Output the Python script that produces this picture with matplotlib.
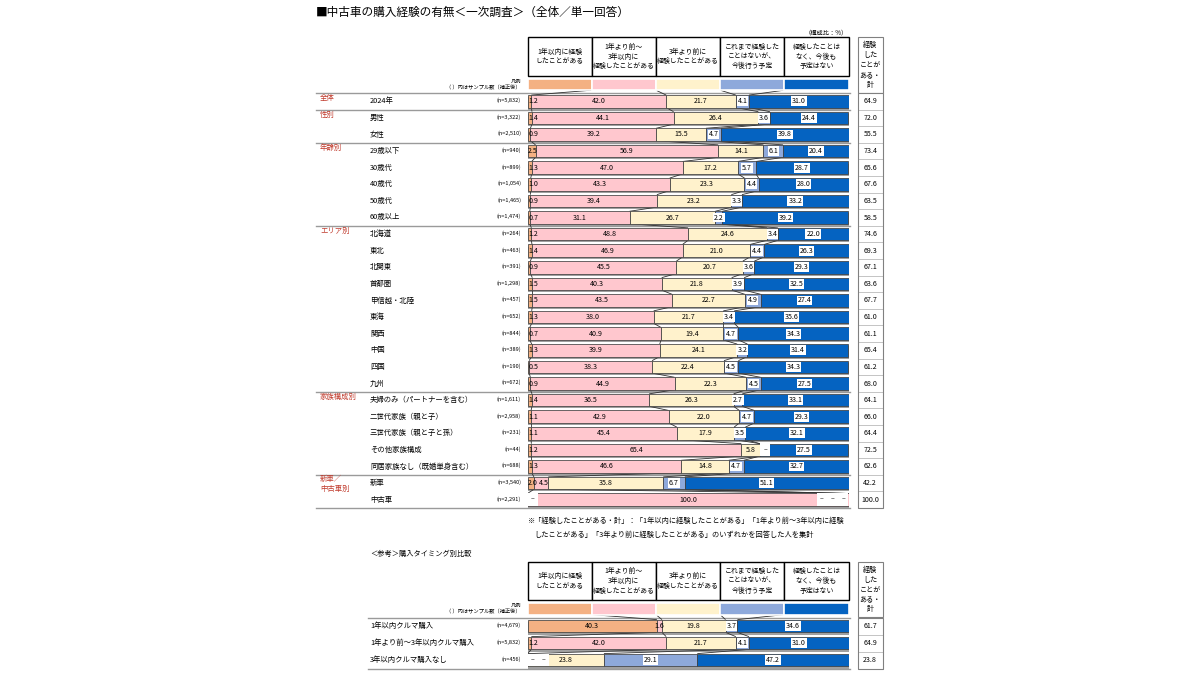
import matplotlib
matplotlib.use('Agg')
import matplotlib.pyplot as plt
import matplotlib.transforms as mtrans
from matplotlib.patches import Rectangle
import numpy as np

plt.rcParams['font.family'] = ['Noto Sans CJK JP', 'DejaVu Sans']

# ---------------- data ----------------
title = '■中古車の購入経験の有無＜一次調査＞（全体／単一回答）'
columns = ['1年以内に経験\nしたことがある', '1年より前～\n3年以内に\n経験したことがある',
           '3年より前に\n経験したことがある', 'これまで経験した\nことはないが、\n今後行う予定',
           '経験したことは\nなく、今後も\n予定はない']
total_header = '経験\nした\nことが\nある・\n計'
colors = ['#F4B183', '#FFC7CE', '#FFF2CC', '#8EA9DB', '#0563C1']

group_names = ['全体', '性別', '年齢別', 'エリア別', '家族構成別', '新車／\n中古車別']
group_sizes = [1, 2, 5, 10, 5, 2]
rows = ['2024年', '男性', '女性', '29歳以下', '30歳代', '40歳代', '50歳代', '60歳以上',
        '北海道', '東北', '北関東', '首都圏', '甲信越・北陸', '東海', '関西', '中国', '四国', '九州',
        '夫婦のみ（パートナーを含む）', '二世代家族（親と子）', '三世代家族（親と子と孫）',
        'その他家族構成', '同居家族なし（既婚単身含む）', '新車', '中古車']
ns = ['5,832', '3,322', '2,510', '940', '899', '1,054', '1,465', '1,474', '264', '463', '391',
      '1,298', '457', '652', '844', '389', '190', '672', '1,611', '2,958', '231', '44', '688',
      '3,540', '2,291']
v_within1 = [1.2, 1.4, 0.9, 2.5, 1.3, 1.0, 0.9, 0.7, 1.2, 1.4, 0.9, 1.5, 1.5, 1.3, 0.7, 1.3,
             0.5, 0.9, 1.4, 1.1, 1.1, 1.2, 1.3, 2.0, 0.0]
v_1to3 = [42.0, 44.1, 39.2, 56.9, 47.0, 43.3, 39.4, 31.1, 48.8, 46.9, 45.5, 40.3, 43.5, 38.0,
          40.9, 39.9, 38.3, 44.9, 36.5, 42.9, 45.4, 65.4, 46.6, 4.5, 100.0]
v_over3 = [21.7, 26.4, 15.5, 14.1, 17.2, 23.3, 23.2, 26.7, 24.6, 21.0, 20.7, 21.8, 22.7, 21.7,
           19.4, 24.1, 22.4, 22.3, 26.3, 22.0, 17.9, 5.8, 14.8, 35.8, 0.0]
v_plan = [4.1, 3.6, 4.7, 6.1, 5.7, 4.4, 3.3, 2.2, 3.4, 4.4, 3.6, 3.9, 4.9, 3.4, 4.7, 3.2, 4.5,
          4.5, 2.7, 4.7, 3.5, 0.0, 4.7, 6.7, 0.0]
v_never = [31.0, 24.4, 39.8, 20.4, 28.7, 28.0, 33.2, 39.2, 22.0, 26.3, 29.3, 32.5, 27.4, 35.6,
           34.3, 31.4, 34.3, 27.5, 33.1, 29.3, 32.1, 27.5, 32.7, 51.1, 0.0]
totals = [64.9, 72.0, 55.5, 73.4, 65.6, 67.6, 63.5, 58.5, 74.6, 69.3, 67.1, 63.6, 67.7, 61.0,
          61.1, 65.4, 61.2, 68.0, 64.1, 66.0, 64.4, 72.5, 62.6, 42.2, 100.0]

ref_title = '＜参考＞購入タイミング別比較'
ref_rows = ['1年以内クルマ購入', '1年より前～3年以内クルマ購入', '3年以内クルマ購入なし']
ref_ns = ['4,679', '5,832', '456']
ref_within1 = [40.3, 1.2, 0.0]
ref_1to3 = [1.6, 42.0, 0.0]
ref_over3 = [19.8, 21.7, 23.8]
ref_plan = [3.7, 4.1, 29.1]
ref_never = [34.6, 31.0, 47.2]
ref_totals = [61.7, 64.9, 23.8]

footnote1 = '※「経験したことがある・計」：「1年以内に経験したことがある」「1年より前～3年以内に経験'
footnote2 = 'したことがある」「3年より前に経験したことがある」のいずれかを回答した人を集計'

# ---------------- figure ----------------
fig = plt.figure(figsize=(12, 6.75), dpi=100)
lay = fig.add_axes([0, 0, 1, 1])
lay.set_xlim(0, 1200)
lay.set_ylim(675, 0)
lay.axis('off')

X0, X1 = 527.5, 848.5
H = 0.75
FS_VAL = 5.1
FS_LAB = 5.3
RED = '#C0392B'


def add_bar_axes(top, bottom, nrows):
    a = fig.add_axes([X0 / 1200, 1 - bottom / 675, (X1 - X0) / 1200, (bottom - top) / 675])
    a.set_xlim(0, 100)
    a.set_ylim(nrows - 0.5, -1.5)
    a.axis('off')
    a.patch.set_alpha(0)
    return a


def draw_header(a, head_top, head_bot, leg_top, leg_bot):
    bt = mtrans.blended_transform_factory(a.transData, lay.transData)
    for k, c in enumerate(columns):
        lay.add_patch(Rectangle((k * 20, head_top), 20, head_bot - head_top, transform=bt,
                                fc='white', ec='black', lw=1.0, zorder=2))
        lay.text(k * 20 + 10, (head_top + head_bot) / 2, c, transform=bt, ha='center',
                 va='center', fontsize=4.95, linespacing=1.3, zorder=3)
    lay.add_patch(Rectangle((858, head_top), 24.5, leg_bot + 3 - head_top, fc='white',
                            ec='#808080', lw=0.8, zorder=2))
    lay.text(870.2, (head_top + leg_bot + 3) / 2, total_header, ha='center', va='center',
             fontsize=5.1, linespacing=1.3, zorder=3)
    lay.text(521, leg_top + 2.5, '凡例', ha='right', va='center', fontsize=3.8)
    lay.text(521, leg_bot - 2.5, '（ ）内はサンプル数（補正後）', ha='right', va='center',
             fontsize=3.8)


def draw_section(a, segs, tots, names, nvals, label_x_left):
    data = np.column_stack(segs)
    n = data.shape[0]
    y = np.arange(n)
    cum = np.cumsum(data, axis=1)
    lefts = cum - data
    # shadows
    a.barh(y + 0.13, 100, height=H, color='#A0A0A0', zorder=1)
    # legend row
    leg_left = np.arange(5) * 20.0
    a.barh(np.full(5, -1), 20, left=leg_left, height=0.66, color=colors,
           edgecolor='white', linewidth=1.2, zorder=3)
    for k in range(5):
        a.barh(y, data[:, k], left=lefts[:, k], height=H, color=colors[k],
               edgecolor='#404040', linewidth=0.55, zorder=3)
    # connectors
    tops = [(leg_left[1:], -1 + 0.33)] + [(cum[i, :4], i + H / 2) for i in range(n - 1)]
    for i, (bt_, yt) in enumerate(tops):
        bb = cum[i, :4]
        for b0, b1 in zip(bt_, bb):
            a.plot([b0, b1], [yt, i - H / 2], color='#303030', lw=0.6, zorder=2,
                   solid_capstyle='butt')
    # labels
    for i in range(n):
        zeros_lead = 0
        trailing = [k for k in range(5) if data[i, k] == 0 and cum[i, k] >= 99.9]
        for k in range(5):
            v = data[i, k]
            if v == 0:
                if lefts[i, k] <= 0.01:
                    xc = 1.65 + 3.3 * zeros_lead
                    zeros_lead += 1
                elif k in trailing:
                    m = len(trailing)
                    j = trailing.index(k)
                    xc = 100 - 1.65 - 3.3 * (m - 1 - j)
                else:
                    xc = lefts[i, k] + 1.65
                a.add_patch(Rectangle((xc - 1.65, i - H / 2), 3.3, H, fc='white', ec='none',
                                      zorder=4))
                a.text(xc, i, '–', ha='center', va='center', fontsize=FS_VAL, zorder=5)
                continue
            txt = f'{v:.1f}'
            if v < 3 and lefts[i, k] <= 0.01:
                a.text(0.2, i, txt, ha='left', va='center', fontsize=FS_VAL, zorder=5)
            elif k == 1 and v < 6 and 0 < data[i, 0] < 3:
                a.text(lefts[i, k] + 1.6, i, txt, ha='left', va='center', fontsize=FS_VAL,
                       zorder=5)
            else:
                kw = {}
                if k >= 3:
                    kw['bbox'] = dict(boxstyle='square,pad=0.12', fc='white', ec='none')
                a.text(lefts[i, k] + v / 2, i, txt, ha='center', va='center',
                       fontsize=FS_VAL, zorder=5, **kw)
    # left labels and totals
    bt = mtrans.blended_transform_factory(lay.transData, a.transData)
    for i in range(n):
        lay.text(label_x_left, i, names[i], transform=bt, ha='left', va='center',
                 fontsize=FS_LAB)
        lay.text(521, i - 0.05, f'(n={nvals[i]})', transform=bt, ha='right', va='center',
                 fontsize=4.0)
        lay.add_patch(Rectangle((858, i - 0.5), 24.5, 1, transform=bt, fc='white',
                                ec='#BFBFBF', lw=0.6, zorder=2))
        lay.text(870.2, i, f'{tots[i]:.1f}', transform=bt, ha='center', va='center',
                 fontsize=FS_VAL, zorder=3)
    lay.add_patch(Rectangle((858, -0.5), 24.5, n, transform=bt, fc='none',
                            ec='#808080', lw=0.8, zorder=3))
    return bt


# ---------------- title ----------------
lay.text(316, 12.5, title, ha='left', va='center', fontsize=8.4)
lay.text(848, 32, '（構成比：%）', ha='right', va='center', fontsize=4.5)

# ---------------- main section ----------------
ax = add_bar_axes(76.4, 508.0, len(rows))
draw_header(ax, 37, 76, 79, 90)
segs_main = [v_within1, v_1to3, v_over3, v_plan, v_never]
btm = draw_section(ax, segs_main, totals, rows, ns, 370)

start = 0
bounds = [-0.5]
for g, sz in zip(group_names, group_sizes):
    if '\n' in g:
        lay.text(320, start + 0.05, g, transform=btm, ha='left', va='center', fontsize=FS_LAB,
                 color=RED, linespacing=1.45)
    else:
        lay.text(320, start - 0.2, g, transform=btm, ha='left', va='center', fontsize=FS_LAB,
                 color=RED)
    start += sz
    bounds.append(start - 0.5)
for b in bounds:
    lay.plot([316, 850], [b, b], transform=btm, color='#9A9A9A', lw=1.0, zorder=1.5)

# footnote
lay.text(528, 521, footnote1, ha='left', va='center', fontsize=5.2)
lay.text(534, 535, footnote2, ha='left', va='center', fontsize=5.2)

# ---------------- reference section ----------------
lay.text(370, 554, ref_title, ha='left', va='center', fontsize=5.2)
ax2 = add_bar_axes(600.5, 668.5, len(ref_rows))
draw_header(ax2, 562, 600, 603, 614)
segs_ref = [ref_within1, ref_1to3, ref_over3, ref_plan, ref_never]
btr = draw_section(ax2, segs_ref, ref_totals, ref_rows, ref_ns, 370)
for b in [-0.5, len(ref_rows) - 0.5]:
    lay.plot([368, 850], [b, b], transform=btr, color='#9A9A9A', lw=1.0, zorder=1.5)

fig.savefig('out.png', dpi=100)
